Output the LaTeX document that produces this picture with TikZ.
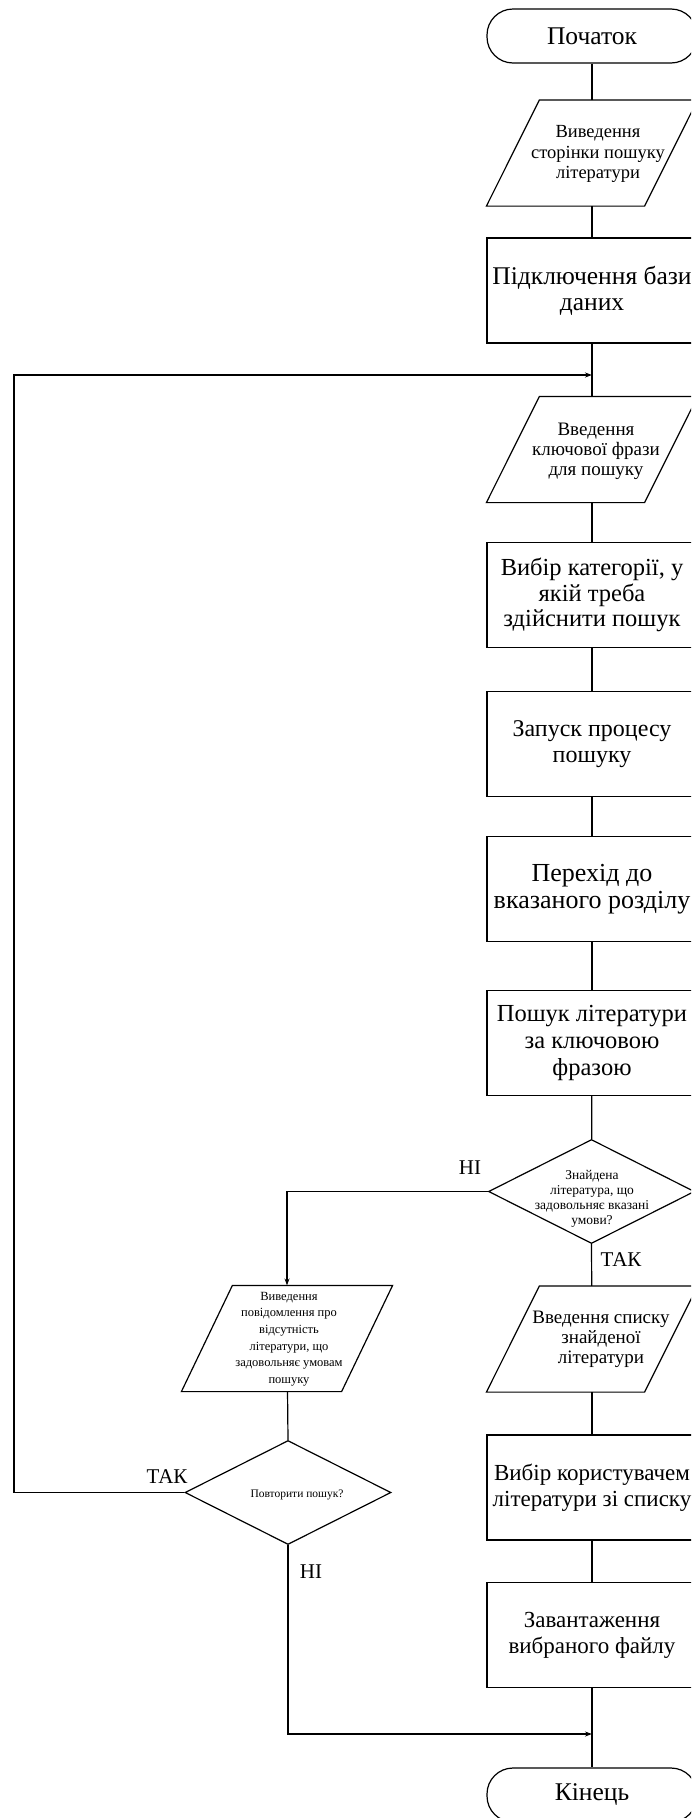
\documentclass[tikz,border=0pt]{standalone}
\usepackage{fontspec}
\setmainfont{Liberation Serif}
\usetikzlibrary{shapes.geometric,arrows.meta,calc}
\newcommand{\fs}[2]{\fontsize{#1}{#2}\selectfont}
\begin{document}
\begin{tikzpicture}[x=1pt,y=-1pt, line width=1.2pt,
  box/.style={draw, minimum width=210pt, minimum height=105pt, inner sep=0pt, align=center, font=\fs{23}{26}},
  paracont/.style={minimum width=210pt, minimum height=105pt, inner sep=0pt},
  ptext/.style={align=center, inner sep=0pt},
  term/.style={draw, rounded corners=26pt, minimum width=210pt, minimum height=54pt, inner sep=0pt, font=\fs{25.5}{28}},
  dia/.style={draw, diamond, minimum width=206pt, minimum height=104pt, inner sep=0pt},
  lbl/.style={font=\fs{21}{23}, inner sep=0pt},
  arr/.style={-{Stealth[length=7pt,width=5pt]}},
]
\useasboundingbox (0,0) rectangle (691,1818);
\clip (0,0) rectangle (691,1818);
\fill[white] (0,0) rectangle (691,1818);

% main column
\node[term] (start) at (592,36) {Початок};
\node[paracont] (p1) at (592,153) {};
\node[ptext, font=\fs{18.5}{20.5}] (p1t) at (598,154) {Виведення\\сторінки пошуку\\літератури};
\node[box, font=\fs{25.5}{26}] (r1) at (592,290.5) {Підключення бази\\даних};
\coordinate (j1) at (592,375);
\node[paracont] (p2) at (592,449.5) {};
\node[ptext, font=\fs{19}{20}] (p2t) at (596,451) {Введення\\ключової фрази\\для пошуку};
\node[box, font=\fs{24.5}{25.5}] (r2) at (592,595) {Вибір категорії, у\\якій треба\\здійснити пошук};
\node[box, font=\fs{24}{26}] (r3) at (592,744) {Запуск процесу\\пошуку};
\node[box, font=\fs{26}{27}] (r4) at (592,889) {Перехід до\\вказаного розділу};
\node[box, font=\fs{24.5}{27}] (r5) at (592,1043) {Пошук літератури\\за ключовою\\фразою};
\node[dia] (d1) at (591.5,1191.5) {};
\node[ptext, font=\fs{13.5}{15}] (d1t) at (592,1199) {Знайдена\\література, що\\задовольняє вказані\\умови?};
\node[paracont] (p3) at (592,1339) {};
\node[ptext, font=\fs{19}{20}] (p3t) at (601,1339) {Введення списку\\знайденої\\літератури};
\node[box] (r6) at (592,1487.5) {Вибір користувачем\\літератури зі списку};
\node[box] (r7) at (592,1635) {Завантаження\\вибраного файлу};
\coordinate (j2) at (592,1734);
\node[term] (end) at (592,1795) {Кінець};

% left column
\node[paracont] (p4) at (287,1338.5) {};
\node[ptext, font=\fs{12.5}{16.7}] (p4t) at (289,1339) {Виведення\\повідомлення про\\відсутність\\літератури, що\\задовольняє умовам\\пошуку};
\node[dia] (d2) at (288,1492.5) {};
\node[inner sep=0pt, font=\fs{11.5}{14}] (d2t) at (297,1495) {Повторити пошук?};
\coordinate (lc) at (14,375);

% parallelogram outlines
\foreach \p/\s in {p1/53,p2/53,p3/53,p4/51}{
  \draw ($(\p.north west)+(\s,0)$) -- (\p.north east) -- ($(\p.south east)+(-\s,0)$) -- (\p.south west) -- cycle;
}

% connectors
\draw (start) -- (p1);
\draw (p1) -- (r1);
\draw (r1) -- (p2);
\draw (p2) -- (r2);
\draw (r2) -- (r3);
\draw (r3) -- (r4);
\draw (r4) -- (r5);
\draw (r5) -- (d1);
\draw (d1.south) -- (p3);
\draw (p3) -- (r6);
\draw (r6) -- (r7);
\draw (r7) -- (end);
\draw[arr] (d1.west) -| (p4.north);
\draw (p4) -- (d2.north);
\draw[arr] (d2.west) -| (lc) -- (j1);
\draw[arr] (d2.south) |- (j2);

% labels
\node[lbl] (lno1) at (470,1168) {НІ};
\node[lbl] (lyes1) at (621,1260) {ТАК};
\node[lbl] (lyes2) at (167,1477) {ТАК};
\node[lbl] (lno2) at (311,1572) {НІ};
\end{tikzpicture}
\end{document}
